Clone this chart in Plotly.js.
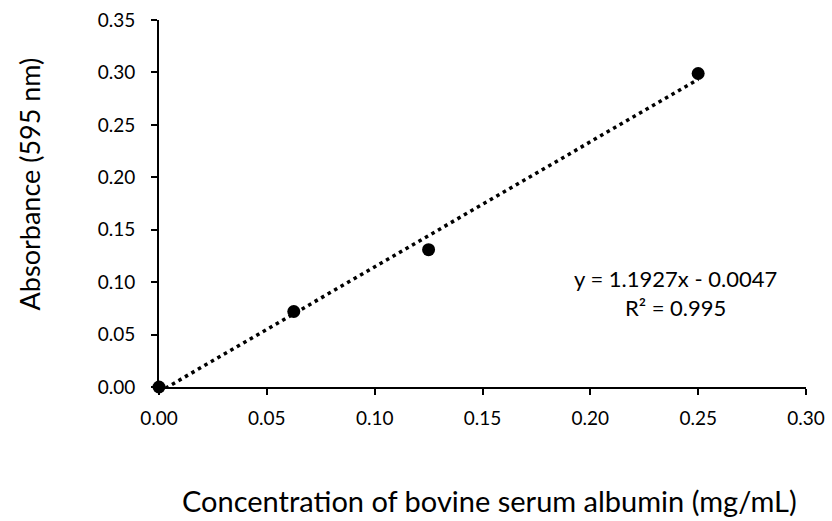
<!DOCTYPE html>
<html><head><meta charset="utf-8">
<script src="https://cdn.plot.ly/plotly-3.0.1.min.js"></script>
<style>body{margin:0;background:#fff}#chart{width:832px;height:521px}</style>
</head><body><div id="chart"></div>
<script>
const concentration = [0, 0.0625, 0.125, 0.25];
const absorbance = [0, 0.072, 0.131, 0.299];
const slope = 1.1927;
const intercept = -0.0047;
const trendX = [0, 0.25];
const trendY = trendX.map(x => slope * x + intercept);
const xTicks = [0, 0.05, 0.10, 0.15, 0.20, 0.25, 0.30];
const yTicks = [0, 0.05, 0.10, 0.15, 0.20, 0.25, 0.30, 0.35];
const xTitle = 'Concentration of bovine serum albumin (mg/mL)';
const yTitle = 'Absorbance (595 nm)';
const equationText = 'y = 1.1927x - 0.0047<br>R² = 0.995';
const fnt = 'Lato, "Open Sans", sans-serif';

const traces = [
  {x: trendX, y: trendY, mode: 'lines', line: {color: '#000', width: 3.5, dash: '3.5px,4px'}, hoverinfo: 'skip', showlegend: false},
  {x: concentration, y: absorbance, mode: 'markers', marker: {color: '#000', size: 13}, showlegend: false, cliponaxis: false}
];
const layout = {
  width: 832, height: 521,
  margin: {l: 159, r: 26, t: 20, b: 134},
  paper_bgcolor: '#fff', plot_bgcolor: '#fff',
  font: {family: fnt, color: '#000', size: 19},
  xaxis: {range: [0, 0.30], tickvals: xTicks, ticktext: xTicks.map(v => v.toFixed(2)),
    showgrid: false, zeroline: false, showline: true, linecolor: '#000', linewidth: 2,
    ticks: 'outside', ticklen: 6, tickwidth: 2, tickcolor: '#000', tickfont: {size: 19},
    ticklabelstandoff: 7},
  yaxis: {range: [0, 0.35], tickvals: yTicks, ticktext: yTicks.map(v => v.toFixed(2)),
    showgrid: false, zeroline: false, showline: true, linecolor: '#000', linewidth: 2,
    ticks: 'outside', ticklen: 6, tickwidth: 2, tickcolor: '#000', tickfont: {size: 19},
    ticklabelstandoff: 12},
  annotations: [
    {x: 0.2393, y: 0.09, xref: 'x', yref: 'y', showarrow: false, align: 'center',
     text: equationText, font: {size: 22, family: fnt}},
    {x: 0.511, y: -0.308, xref: 'paper', yref: 'paper', showarrow: false, xanchor: 'center', yanchor: 'middle',
     text: xTitle, font: {size: 29, family: fnt}},
    {x: -0.2004, y: 0.553, xref: 'paper', yref: 'paper', showarrow: false, xanchor: 'center', yanchor: 'middle',
     textangle: -90, text: yTitle, font: {size: 27, family: fnt}}
  ]
};
Plotly.newPlot('chart', traces, layout, {displayModeBar: false, staticPlot: true});
</script></body></html>
